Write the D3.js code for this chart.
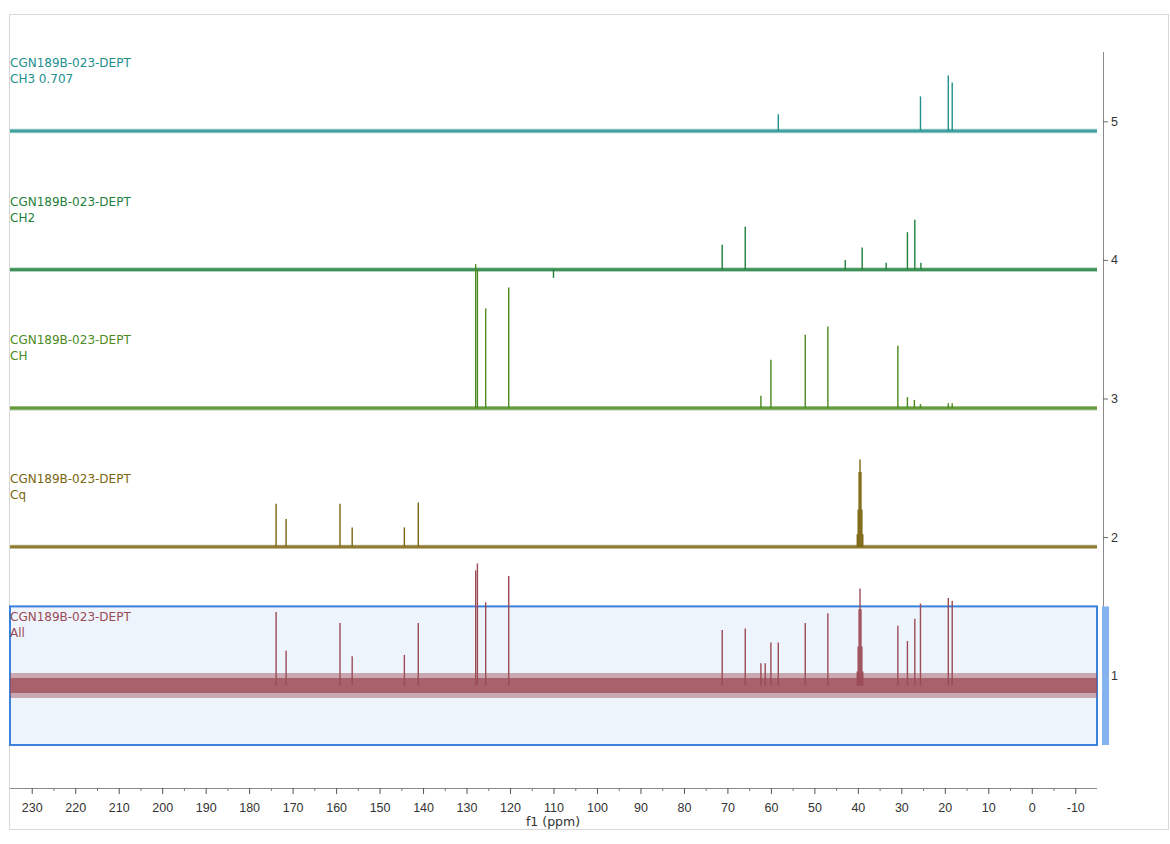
<!DOCTYPE html>
<html>
<head>
<meta charset="utf-8">
<script src="https://cdn.jsdelivr.net/npm/d3@7"></script>
<style>
  body { margin: 0; background: #fff; }
  svg { display: block; font-family: 'DejaVu Sans', Verdana, sans-serif; }
</style>
</head>
<body>
<svg id="main_svg" width="1170" height="844"></svg>
<script>
// f1 axis ticks (ppm)
const ppmMajorTicks = [230, 220, 210, 200, 190, 180, 170, 160, 150, 140, 130, 120, 110,
  100, 90, 80, 70, 60, 50, 40, 30, 20, 10, 0, -10];
const ppmMinorTicks = [225, 215, 205, 195, 185, 175, 165, 155, 145, 135, 125, 115, 105,
  95, 85, 75, 65, 55, 45, 35, 25, 15, 5, -5];
// stack offset ticks on the right
const offsetTicks = [1, 2, 3, 4, 5];

// spectra, top to bottom
const spectrumTitles = ['CGN189B-023-DEPT', 'CGN189B-023-DEPT', 'CGN189B-023-DEPT',
  'CGN189B-023-DEPT', 'CGN189B-023-DEPT'];
const spectrumSubtitles = ['CH3 0.707', 'CH2', 'CH', 'Cq', 'All'];
const spectrumOffsets = [4.93, 3.93, 2.93, 1.93, 0.93];
const spectrumNoise = [0.016, 0.016, 0.016, 0.015, 0.09];

// peaks: [ppm, intensity]
const ch3Peaks = [[58.3, 0.12], [25.6, 0.25], [19.2, 0.40], [18.3, 0.35]];
const ch2Peaks = [[71.2, 0.18], [65.9, 0.31], [42.9, 0.07], [39.0, 0.16], [33.5, 0.05],
  [28.6, 0.27], [26.9, 0.36], [25.5, 0.05], [110.0, -0.06]];
const chPeaks = [[127.9, 1.04], [127.5, 1.0], [125.6, 0.72], [120.3, 0.87], [62.3, 0.09],
  [60.0, 0.35], [52.1, 0.53], [46.9, 0.59], [30.8, 0.45], [28.6, 0.08], [27.0, 0.06],
  [25.6, 0.03], [19.2, 0.035], [18.3, 0.035]];
const cqPeaks = [[173.8, 0.31], [171.5, 0.20], [159.1, 0.31], [156.3, 0.14], [144.3, 0.14],
  [141.1, 0.32], [40.13, 0.09], [39.92, 0.27], [39.71, 0.54], [39.50, 0.63], [39.29, 0.54],
  [39.08, 0.27], [38.87, 0.09]];
const allPeaks = [[173.8, 0.53], [171.5, 0.25], [159.1, 0.45], [156.3, 0.21], [144.3, 0.22],
  [141.1, 0.45], [127.9, 0.83], [127.5, 0.88], [125.6, 0.60], [120.3, 0.79], [71.2, 0.40],
  [65.9, 0.41], [62.3, 0.16], [61.3, 0.16], [60.0, 0.31], [58.3, 0.31], [52.1, 0.45],
  [46.9, 0.52], [40.13, 0.10], [39.92, 0.28], [39.71, 0.55], [39.50, 0.70], [39.29, 0.55],
  [39.08, 0.28], [38.87, 0.10], [30.8, 0.43], [28.6, 0.32], [26.9, 0.48], [25.6, 0.59],
  [19.2, 0.63], [18.3, 0.61]];
const spectrumPeaks = [ch3Peaks, ch2Peaks, chPeaks, cqPeaks, allPeaks];

// selected spectrum range (offset units)
const selectionRange = [0.5, 1.5];

const spectrumColors = ['#21908f', '#1f7f3b', '#4c8a1e', '#7b6611', '#9b4b56'];

const svg = d3.select('#main_svg');

const x = d3.scaleLinear().domain([235, -15]).range([10, 1097]);
const y = d3.scaleLinear().domain([0.5, 5.5]).range([745, 52]);

// outer frame
svg.append('rect')
  .attr('x', 9.5).attr('y', 14.5)
  .attr('width', 1159).attr('height', 815)
  .attr('fill', 'none')
  .attr('stroke', '#d8d8d8');

// selection box behind the "All" trace
svg.append('rect')
  .attr('x', x(235)).attr('y', y(selectionRange[1]))
  .attr('width', x(-15) - x(235))
  .attr('height', y(selectionRange[0]) - y(selectionRange[1]))
  .attr('fill', '#eef4fc')
  .attr('stroke', '#3a82dc')
  .attr('stroke-width', 2);

// f1 axis
const xAxis = svg.append('g')
  .attr('transform', 'translate(0,788)')
  .call(d3.axisBottom(x).tickValues(ppmMajorTicks).tickSize(6).tickPadding(9)
    .tickFormat(d => String(d)));
xAxis.select('.domain').attr('stroke', '#8a8a8a').attr('d', 'M' + x(235) + ',0.5H' + x(-15));
xAxis.selectAll('.tick line').attr('stroke', '#555');
xAxis.selectAll('.tick text')
  .attr('fill', '#333')
  .style('font-size', '12.5px');

svg.append('g')
  .attr('transform', 'translate(0,788)')
  .selectAll('line')
  .data(ppmMinorTicks)
  .enter()
  .append('line')
  .attr('x1', d => x(d) + 0.5).attr('x2', d => x(d) + 0.5)
  .attr('y1', 0).attr('y2', 3)
  .attr('stroke', '#777');

svg.append('text')
  .attr('x', 553).attr('y', 826)
  .attr('text-anchor', 'middle')
  .attr('fill', '#333')
  .style('font-size', '12.5px')
  .text('f1 (ppm)');

// offset axis on the right
const yAxis = svg.append('g')
  .attr('transform', 'translate(1103,0)')
  .call(d3.axisRight(y).tickValues(offsetTicks).tickSize(5).tickPadding(3)
    .tickFormat(d => String(d)));
yAxis.select('.domain').attr('stroke', '#8a8a8a').attr('d', 'M0.5,' + y(5.5) + 'V' + y(0.5));
yAxis.selectAll('.tick line').attr('stroke', '#666');
yAxis.selectAll('.tick text')
  .attr('fill', '#333')
  .style('font-size', '12.5px');

// selected indicator bar
svg.append('rect')
  .attr('x', 1102).attr('y', y(selectionRange[1]))
  .attr('width', 7)
  .attr('height', y(selectionRange[0]) - y(selectionRange[1]))
  .attr('fill', '#84b3f0');

// spectra
spectrumOffsets.forEach(function(offset, i) {
  const g = svg.append('g').attr('class', 'spectrum');
  const color = spectrumColors[i];
  const noise = spectrumNoise[i];

  // baseline noise: faint outer envelope, denser core
  [[1, 0.45], [0.6, 0.75]].forEach(function(band) {
    g.append('path')
      .datum([235, -15])
      .attr('d', d3.area()
        .x(d => x(d))
        .y0(y(offset - noise * band[0]))
        .y1(y(offset + noise * band[0])))
      .attr('fill', color)
      .attr('opacity', band[1]);
  });

  // peaks
  g.selectAll('line.peak')
    .data(spectrumPeaks[i])
    .enter()
    .append('line')
    .attr('class', 'peak')
    .attr('x1', d => x(d[0])).attr('x2', d => x(d[0]))
    .attr('y1', y(offset)).attr('y2', d => y(offset + d[1]))
    .attr('stroke', color)
    .attr('stroke-width', 1.4);

  // labels
  const label = g.append('text')
    .attr('fill', color)
    .style('font-size', '12px');
  label.append('tspan')
    .attr('x', 10).attr('y', y(offset) - 64)
    .text(spectrumTitles[i]);
  label.append('tspan')
    .attr('x', 10).attr('y', y(offset) - 48)
    .text(spectrumSubtitles[i]);
});
</script>
</body>
</html>
